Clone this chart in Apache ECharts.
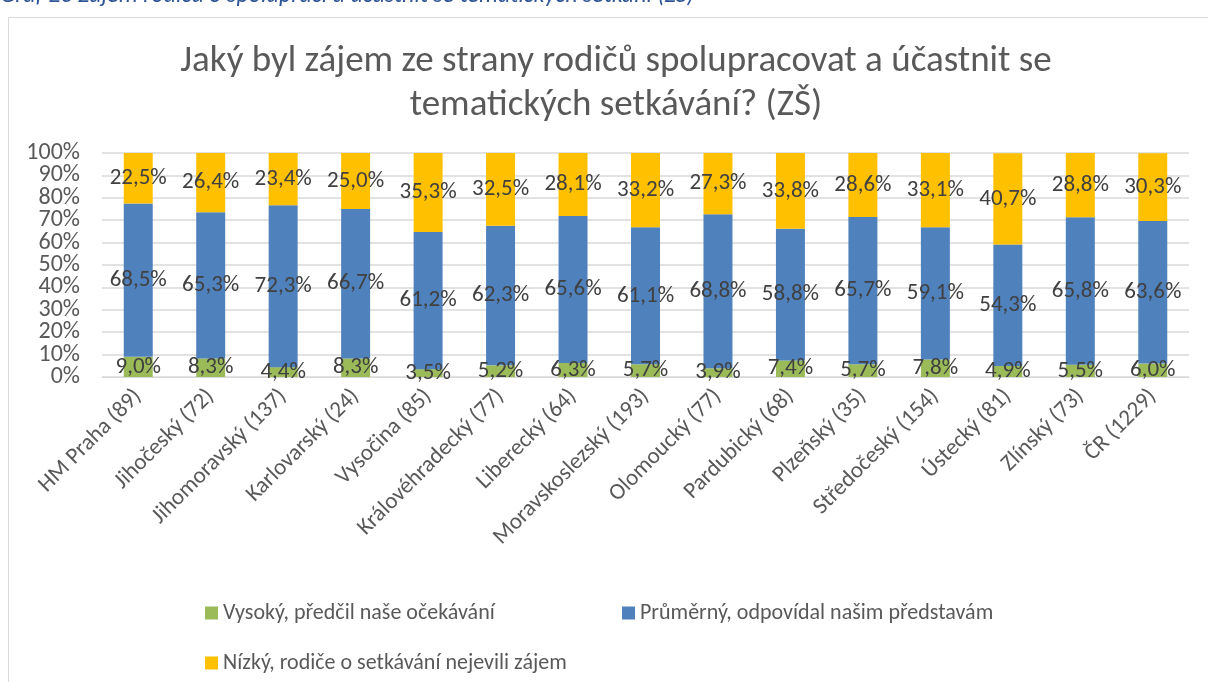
<!DOCTYPE html>
<html><head><meta charset="utf-8">
<script src="https://cdn.jsdelivr.net/npm/echarts@6/dist/echarts.min.js"></script>
<style>html,body{margin:0;padding:0;background:#fff}#c{width:1208px;height:682px}</style>
</head><body><div id="c"></div>
<script>
const categories = ["HM Praha (89)", "Jihočeský (72)", "Jihomoravský (137)", "Karlovarský (24)", "Vysočina (85)", "Královéhradecký (77)", "Liberecký (64)", "Moravskoslezský (193)", "Olomoucký (77)", "Pardubický (68)", "Plzeňský (35)", "Středočeský (154)", "Ústecký (81)", "Zlínský (73)", "ČR (1229)"];
const seriesNames = ["Vysoký, předčil naše očekávání", "Průměrný, odpovídal našim představám", "Nízký, rodiče o setkávání nejevili zájem"];
const vysoky = [9.0, 8.3, 4.4, 8.3, 3.5, 5.2, 6.3, 5.7, 3.9, 7.4, 5.7, 7.8, 4.9, 5.5, 6.0];
const prumerny = [68.5, 65.3, 72.3, 66.7, 61.2, 62.3, 65.6, 61.1, 68.8, 58.8, 65.7, 59.1, 54.3, 65.8, 63.6];
const nizky = [22.5, 26.4, 23.4, 25.0, 35.3, 32.5, 28.1, 33.2, 27.3, 33.8, 28.6, 33.1, 40.7, 28.8, 30.3];
const colors = ["#9BBB59", "#4F81BD", "#FFC000"];
const titleText = "Jaký byl zájem ze strany rodičů spolupracovat a účastnit se\ntematických setkávání? (ZŠ)";
const captionText = "Graf 26 Zájem rodičů o spolupráci a účastnit se tematických setkání (ZŠ)";

const FONT = 'Carlito, "Liberation Sans Narrow", "Open Sans", sans-serif';
const chart = echarts.init(document.getElementById('c'), null, {renderer: 'canvas'});
const fmt = v => v.toFixed(1).replace('.', ',') + '%';
const mk = (name, data, i) => ({
  name, type: 'bar', stack: 'a', data, barWidth: '40%', yAxisIndex: 0,
  itemStyle: {color: colors[i]},
  label: {show: true, position: 'inside', formatter: p => fmt(p.value), color: '#404040', fontSize: 23, fontFamily: FONT},
  emphasis: {disabled: true}
});
const legendBase = {icon: 'rect', itemWidth: 13, itemHeight: 13, itemGap: 6, textStyle: {color: '#595959', fontSize: 22, fontFamily: FONT}};
const yLab = (keepOdd) => ({
  formatter: v => ((Math.round(v / 10) % 2 === 1) === keepOdd) ? v + '%' : '',
  color: '#595959', fontSize: 24, fontFamily: FONT, margin: 22, hideOverlap: false
});
chart.setOption({
  animation: false,
  title: {text: titleText, left: 611, textAlign: 'center', top: 35, textStyle: {color: '#595959', fontSize: 37, fontWeight: 'normal', fontFamily: FONT, lineHeight: 44}},
  graphic: [
    {type: 'rect', shape: {x: 8.5, y: 17.5, width: 1220, height: 700}, style: {fill: 'none', stroke: '#d9d9d9', lineWidth: 1}, z: -1},
    {type: 'text', x: 0, y: -4, style: {text: captionText, fill: '#2F5597', font: 'italic 24px ' + FONT, verticalAlign: 'middle'}}
  ],
  legend: [
    Object.assign({data: [seriesNames[0]], left: 200, top: 597}, legendBase),
    Object.assign({data: [seriesNames[1]], left: 617, top: 597}, legendBase),
    Object.assign({data: [seriesNames[2]], left: 200, top: 647}, legendBase)
  ],
  grid: {left: 102, right: 19, top: 153, height: 224},
  xAxis: {type: 'category', data: categories,
    axisLine: {lineStyle: {color: '#d9d9d9'}}, axisTick: {show: false},
    axisLabel: {rotate: 45, color: '#595959', fontSize: 23, fontFamily: FONT, margin: 16, interval: 0}},
  yAxis: [
    {type: 'value', min: 0, max: 100, interval: 10, position: 'left',
      axisLabel: Object.assign(yLab(false), {showMinLabel: true, showMaxLabel: true}),
      splitLine: {lineStyle: {color: '#d9d9d9', width: 1.5}}, axisLine: {show: false}, axisTick: {show: false}},
    {type: 'value', min: 0, max: 100, interval: 10, position: 'left', offset: 0,
      axisLabel: yLab(true),
      splitLine: {show: false}, axisLine: {show: false}, axisTick: {show: false}}
  ],
  series: [mk(seriesNames[0], vysoky, 0), mk(seriesNames[1], prumerny, 1), mk(seriesNames[2], nizky, 2)]
});
</script></body></html>
